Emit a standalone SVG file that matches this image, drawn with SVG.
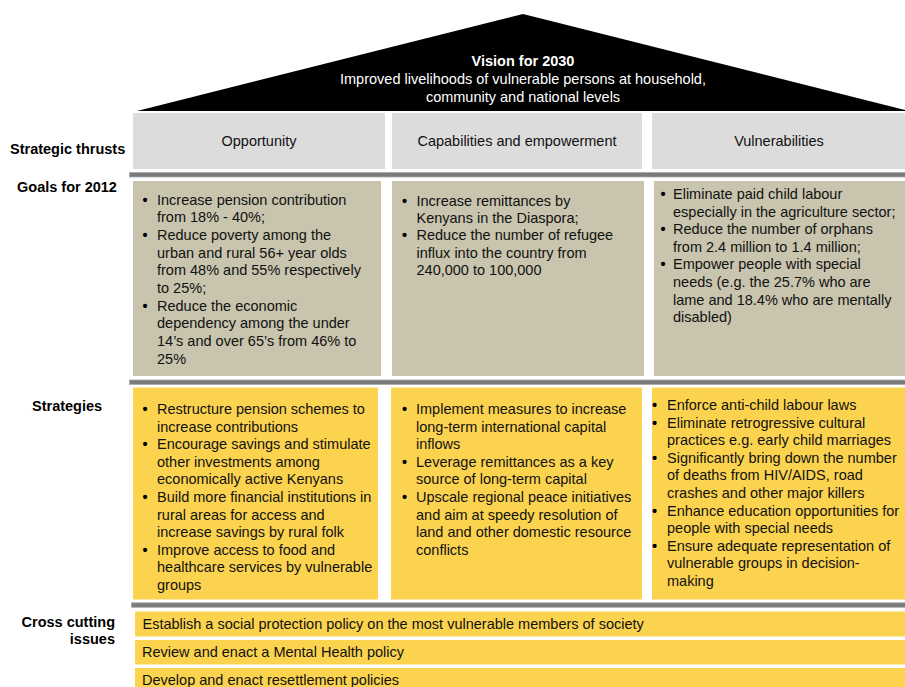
<svg xmlns="http://www.w3.org/2000/svg" width="905" height="687" viewBox="0 0 905 687">
<style>
text{font-family:"Liberation Sans",Arial,Helvetica,sans-serif;font-size:14.5px;fill:#111}
.lbl{font-weight:bold;fill:#000}
.roof{fill:#fff}
.hdr{fill:#dcdcdc}
.goal{fill:#c8c4ad}
.strat{fill:#fcd34f}
.bar{fill:#7b7b7b;stroke:#a8a8a8;stroke-width:0.8}
.c{text-anchor:middle}
.b{font-weight:bold;fill:#000}
</style>
<rect width="905" height="687" fill="#fff"/>
<g id="vision">
<polygon points="137,111 523,14 905,110 905,111" fill="#000"/>
<text class="roof c" x="523" y="66" font-weight="bold">Vision for 2030</text>
<text class="roof c" x="523" y="84">Improved livelihoods of vulnerable persons at household,</text>
<text class="roof c" x="523" y="101.5">community and national levels</text>
</g>
<g id="labels">
<text class="lbl" x="10" y="154">Strategic thrusts</text>
<text class="lbl" x="17" y="192">Goals for 2012</text>
<text class="lbl" x="32" y="411">Strategies</text>
<text class="lbl" x="115" y="627" text-anchor="end">Cross cutting</text>
<text class="lbl" x="115" y="644" text-anchor="end">issues</text>
</g>
<g id="separators">
<rect class="bar" x="129.5" y="172.5" width="776" height="4.5"/>
<rect class="bar" x="129.5" y="380" width="776" height="4.5"/>
<rect class="bar" x="131.5" y="602.8" width="774" height="4.5"/>
</g>
<g id="thrust-opportunity">
<rect class="hdr" x="133" y="113" width="252" height="56"/>
<text class="c" x="259" y="146">Opportunity</text>
</g>
<g id="thrust-capabilities">
<rect class="hdr" x="392" y="113" width="250" height="56"/>
<text class="c" x="517" y="146">Capabilities and empowerment</text>
</g>
<g id="thrust-vulnerabilities">
<rect class="hdr" x="652" y="113" width="253" height="56"/>
<text class="c" x="779" y="146">Vulnerabilities</text>
</g>
<g id="goals-opportunity">
<rect class="goal" x="133" y="181" width="248" height="195"/>
<text class="b" x="142.5" y="204.5">•</text><text class="b" x="142.5" y="239.9">•</text><text class="b" x="142.5" y="310.7">•</text>
<text x="157">
<tspan x="157" y="204.5">Increase pension contribution</tspan>
<tspan x="157" y="222.2">from 18% - 40%;</tspan>
<tspan x="157" y="239.9">Reduce poverty among the</tspan>
<tspan x="157" y="257.6">urban and rural 56+ year olds</tspan>
<tspan x="157" y="275.3">from 48% and 55% respectively</tspan>
<tspan x="157" y="293">to 25%;</tspan>
<tspan x="157" y="310.7">Reduce the economic</tspan>
<tspan x="157" y="328.4">dependency among the under</tspan>
<tspan x="157" y="346.1">14’s and over 65’s from 46% to</tspan>
<tspan x="157" y="363.8">25%</tspan>
</text>
</g>
<g id="goals-capabilities">
<rect class="goal" x="392" y="181" width="252" height="195"/>
<text class="b" x="402" y="205.5">•</text><text class="b" x="402" y="240.3">•</text>
<text x="416.5">
<tspan x="416.5" y="205.5">Increase remittances by</tspan>
<tspan x="416.5" y="222.9">Kenyans in the Diaspora;</tspan>
<tspan x="416.5" y="240.3">Reduce the number of refugee</tspan>
<tspan x="416.5" y="257.7">influx into the country from</tspan>
<tspan x="416.5" y="275.1">240,000 to 100,000</tspan>
</text>
</g>
<g id="goals-vulnerabilities">
<rect class="goal" x="654" y="181" width="251" height="195"/>
<text class="b" x="660.5" y="199">•</text><text class="b" x="660.5" y="234.2">•</text><text class="b" x="660.5" y="269.4">•</text>
<text x="673">
<tspan x="673" y="199">Eliminate paid child labour</tspan>
<tspan x="673" y="216.6">especially in the agriculture sector;</tspan>
<tspan x="673" y="234.2">Reduce the number of orphans</tspan>
<tspan x="673" y="251.8">from 2.4 million to 1.4 million;</tspan>
<tspan x="673" y="269.4">Empower people with special</tspan>
<tspan x="673" y="287">needs (e.g. the 25.7% who are</tspan>
<tspan x="673" y="304.6">lame and 18.4% who are mentally</tspan>
<tspan x="673" y="322.2">disabled)</tspan>
</text>
</g>
<g id="strategies-opportunity">
<rect class="strat" x="133" y="387.5" width="245" height="212"/>
<text class="b" x="142.5" y="414">•</text><text class="b" x="142.5" y="449.2">•</text><text class="b" x="142.5" y="502">•</text><text class="b" x="142.5" y="554.8">•</text>
<text x="157">
<tspan x="157" y="414">Restructure pension schemes to</tspan>
<tspan x="157" y="431.6">increase contributions</tspan>
<tspan x="157" y="449.2">Encourage savings and stimulate</tspan>
<tspan x="157" y="466.8">other investments among</tspan>
<tspan x="157" y="484.4">economically active Kenyans</tspan>
<tspan x="157" y="502">Build more financial institutions in</tspan>
<tspan x="157" y="519.6">rural areas for access and</tspan>
<tspan x="157" y="537.2">increase savings by rural folk</tspan>
<tspan x="157" y="554.8">Improve access to food and</tspan>
<tspan x="157" y="572.4">healthcare services by vulnerable</tspan>
<tspan x="157" y="590">groups</tspan>
</text>
</g>
<g id="strategies-capabilities">
<rect class="strat" x="391" y="387.5" width="251" height="212"/>
<text class="b" x="402" y="414">•</text><text class="b" x="402" y="466.8">•</text><text class="b" x="402" y="502">•</text>
<text x="416">
<tspan x="416" y="414">Implement measures to increase</tspan>
<tspan x="416" y="431.6">long-term international capital</tspan>
<tspan x="416" y="449.2">inflows</tspan>
<tspan x="416" y="466.8">Leverage remittances as a key</tspan>
<tspan x="416" y="484.4">source of long-term capital</tspan>
<tspan x="416" y="502">Upscale regional peace initiatives</tspan>
<tspan x="416" y="519.6">and aim at speedy resolution of</tspan>
<tspan x="416" y="537.2">land and other domestic resource</tspan>
<tspan x="416" y="554.8">conflicts</tspan>
</text>
</g>
<g id="strategies-vulnerabilities">
<rect class="strat" x="652" y="387.5" width="253" height="212"/>
<text class="b" x="652" y="410">•</text><text class="b" x="652" y="427.6">•</text><text class="b" x="652" y="462.8">•</text><text class="b" x="652" y="515.6">•</text><text class="b" x="652" y="550.8">•</text>
<text x="667">
<tspan x="667" y="410">Enforce anti-child labour laws</tspan>
<tspan x="667" y="427.6">Eliminate retrogressive cultural</tspan>
<tspan x="667" y="445.2">practices e.g. early child marriages</tspan>
<tspan x="667" y="462.8">Significantly bring down the number</tspan>
<tspan x="667" y="480.4">of deaths from HIV/AIDS, road</tspan>
<tspan x="667" y="498">crashes and other major killers</tspan>
<tspan x="667" y="515.6">Enhance education opportunities for</tspan>
<tspan x="667" y="533.2">people with special needs</tspan>
<tspan x="667" y="550.8">Ensure adequate representation of</tspan>
<tspan x="667" y="568.4">vulnerable groups in decision-</tspan>
<tspan x="667" y="586">making</tspan>
</text>
</g>
<g id="cross-social-protection">
<rect class="strat" x="135" y="611.5" width="770" height="25"/>
<text x="142.5" y="628.5">Establish a social protection policy on the most vulnerable members of society</text>
</g>
<g id="cross-mental-health">
<rect class="strat" x="135" y="640" width="770" height="24.5"/>
<text x="142" y="657">Review and enact a Mental Health policy</text>
</g>
<g id="cross-resettlement">
<rect class="strat" x="135" y="668" width="770" height="25"/>
<text x="142" y="684.5">Develop and enact resettlement policies</text>
</g>
</svg>
